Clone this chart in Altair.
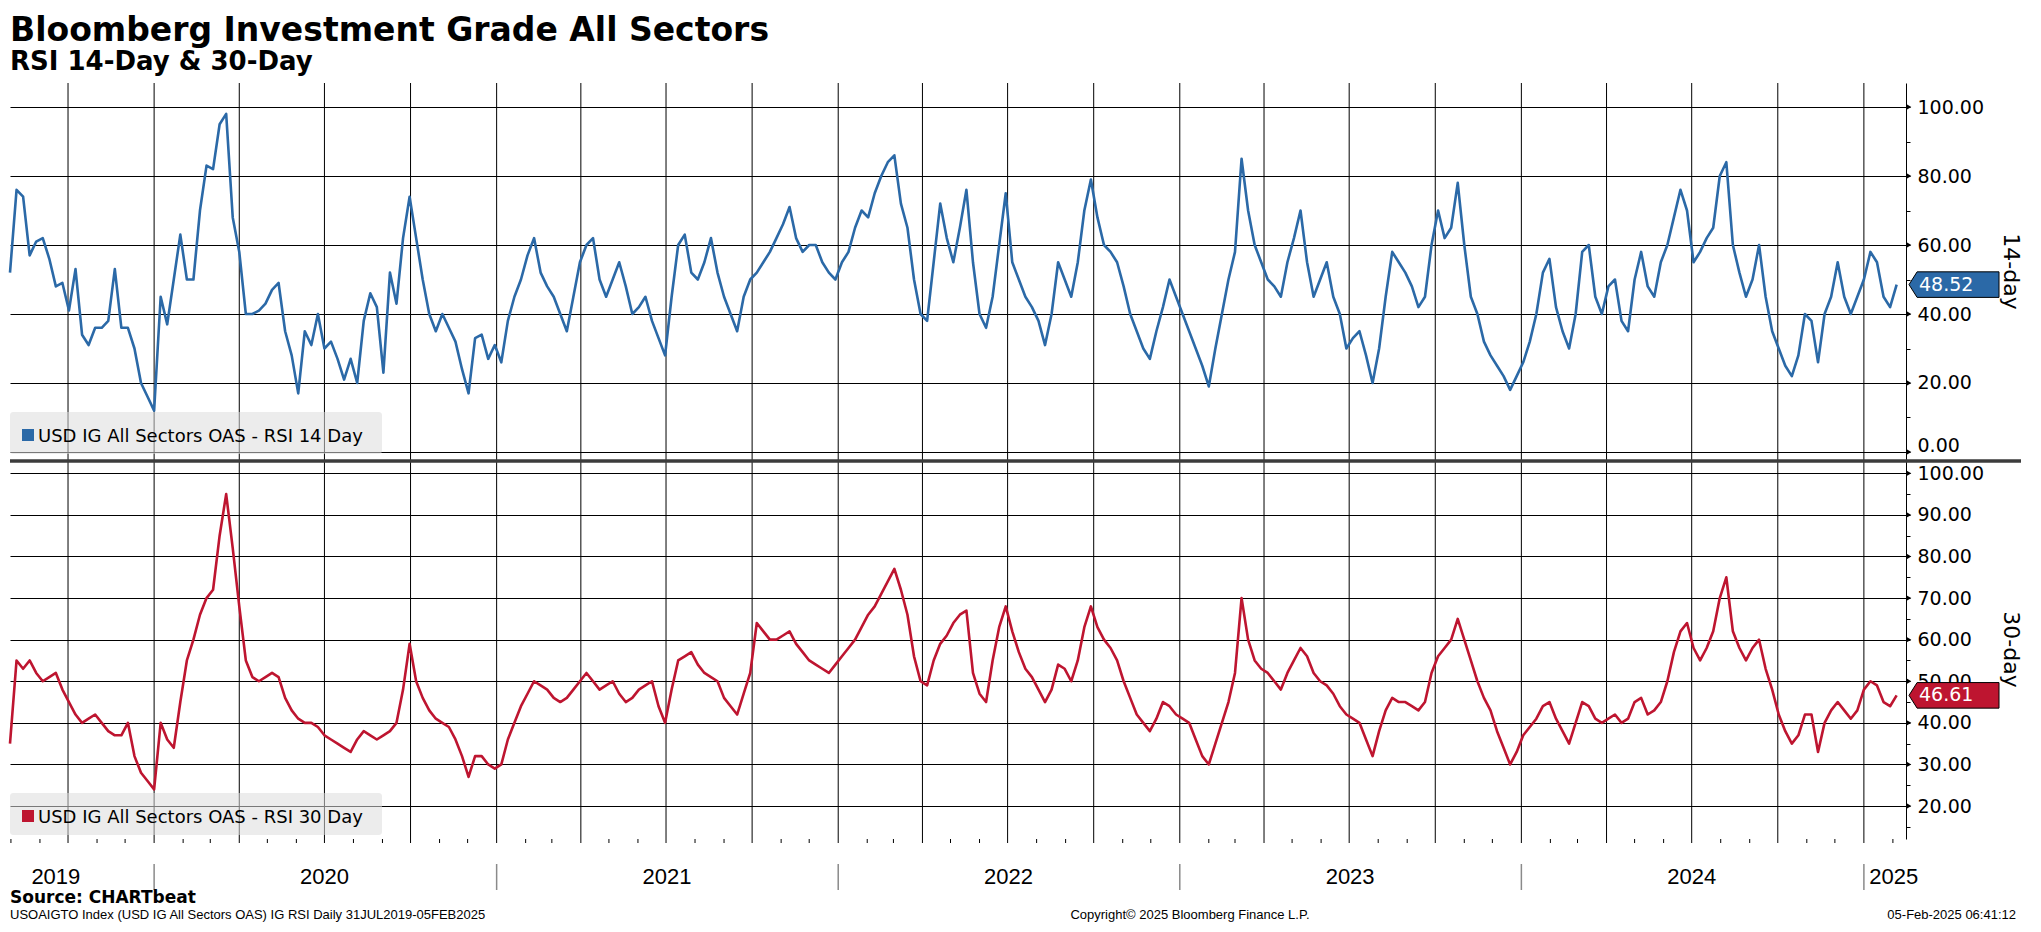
import altair as alt
import pandas as pd

TITLE = "Bloomberg Investment Grade All Sectors"
SUBTITLE = "RSI 14-Day & 30-Day"
NAME14 = "USD IG All Sectors OAS - RSI 14 Day"
NAME30 = "USD IG All Sectors OAS - RSI 30 Day"
SOURCE = "Source: CHARTbeat"
FOOT_LEFT = "USOAIGTO Index (USD IG All Sectors OAS) IG RSI  Daily 31JUL2019-05FEB2025"
FOOT_MID = "Copyright\u00a9 2025 Bloomberg Finance L.P."
FOOT_RIGHT = "05-Feb-2025 06:41:12"
START_DATE = "2019-07-31"   # weekly readings from here to 05-Feb-2025

rsi14 = [
    52, 76, 74, 57, 61, 62, 56, 48, 49, 41,
    53, 34, 31, 36, 36, 38, 53, 36, 36, 30,
    20, 16, 12, 45, 37, 50, 63, 50, 50, 70,
    83, 82, 95, 98, 68, 58, 40, 40, 41, 43,
    47, 49, 35, 28, 17, 35, 31, 40, 30, 32,
    27, 21, 27, 20, 38, 46, 42, 23, 52, 43,
    62, 74, 62, 50, 40, 35, 40, 36, 32, 24,
    17, 33, 34, 27, 31, 26, 38, 45, 50, 57,
    62, 52, 48, 45, 40, 35, 45, 55, 60, 62,
    50, 45, 50, 55, 48, 40, 42, 45, 38, 33,
    28, 45, 60, 63, 52, 50, 55, 62, 52, 45,
    40, 35, 45, 50, 52, 55, 58, 62, 66, 71,
    62, 58, 60, 60, 55, 52, 50, 55, 58, 65,
    70, 68, 75, 80, 84, 86, 72, 65, 50, 40,
    38, 55, 72, 62, 55, 65, 76, 55, 40, 36,
    45, 60, 75, 55, 50, 45, 42, 38, 31, 40,
    55, 50, 45, 55, 70, 79, 68, 60, 58, 55,
    48, 40, 35, 30, 27, 35, 42, 50, 45, 40,
    35, 30, 25, 19, 30, 40, 50, 58, 85, 70,
    60, 55, 50, 48, 45, 55, 62, 70, 55, 45,
    50, 55, 45, 40, 30, 33, 35, 28, 20, 30,
    45, 58, 55, 52, 48, 42, 45, 60, 70, 62,
    65, 78, 60, 45, 40, 32, 28, 25, 22, 18,
    22, 26, 32, 40, 52, 56, 42, 35, 30, 40,
    58, 60, 45, 40, 48, 50, 38, 35, 50, 58,
    48, 45, 55, 60, 68, 76, 70, 55, 58, 62,
    65, 80, 84, 60, 52, 45, 50, 60, 45, 35,
    30, 25, 22, 28, 40, 38, 26, 40, 45, 55,
    45, 40, 45, 50, 58, 55, 45, 42, 48.52,
]

rsi30 = [
    35, 55, 53, 55, 52, 50, 51, 52, 48, 45,
    42, 40, 41, 42, 40, 38, 37, 37, 40, 32,
    28, 26, 24, 40, 36, 34, 45, 55, 60, 66,
    70, 72, 85, 95, 82, 68, 55, 51, 50, 51,
    52, 51, 46, 43, 41, 40, 40, 39, 37, 36,
    35, 34, 33, 36, 38, 37, 36, 37, 38, 40,
    48, 59, 50, 46, 43, 41, 40, 39, 36, 32,
    27, 32, 32, 30, 29, 30, 36, 40, 44, 47,
    50, 49, 48, 46, 45, 46, 48, 50, 52, 50,
    48, 49, 50, 47, 45, 46, 48, 49, 50, 44,
    40, 48, 55, 56, 57, 54, 52, 51, 50, 46,
    44, 42, 47, 52, 64, 62, 60, 60, 61, 62,
    59, 57, 55, 54, 53, 52, 54, 56, 58, 60,
    63, 66, 68, 71, 74, 77, 72, 66, 56, 50,
    49, 55, 59, 61, 64, 66, 67, 52, 47, 45,
    55, 63, 68, 62, 57, 53, 51, 48, 45, 48,
    54, 53, 50, 55, 63, 68, 63, 60, 58, 55,
    50, 46, 42, 40, 38, 41, 45, 44, 42, 41,
    40, 36, 32, 30, 35, 40, 45, 52, 70, 60,
    55, 53, 52, 50, 48, 52, 55, 58, 56, 52,
    50, 49, 47, 44, 42, 41, 40, 36, 32, 38,
    43, 46, 45, 45, 44, 43, 45, 52, 56, 58,
    60, 65, 60, 55, 50, 46, 43, 38, 34, 30,
    33, 37, 39, 41, 44, 45, 41, 38, 35, 40,
    45, 44, 41, 40, 41, 42, 40, 41, 45, 46,
    42, 43, 45, 50, 57, 62, 64, 58, 55, 58,
    62, 70, 75, 62, 58, 55, 58, 60, 53, 48,
    42, 38, 35, 37, 42, 42, 33, 40, 43, 45,
    43, 41, 43, 48, 50, 49, 45, 44, 46.61,
]

LAST14 = 48.52
LAST30 = 46.61

ticks14 = [0, 10, 20, 30, 40, 50, 60, 70, 80, 90, 100]
major14 = [0, 20, 40, 60, 80, 100]
ticks30 = [15, 20, 25, 30, 35, 40, 45, 50, 55, 60, 65, 70, 75, 80, 85, 90, 95, 100]
major30 = [20, 30, 40, 50, 60, 70, 80, 90, 100]

year_labels = ["2019", "2020", "2021", "2022", "2023", "2024", "2025"]
year_centers = ["2019-09-18", "2020-07-01", "2021-07-02", "2022-07-02",
                "2023-07-02", "2024-07-01", "2025-02-02"]
year_bounds = ["2020-01-01", "2021-01-01", "2022-01-01", "2023-01-01",
               "2024-01-01", "2025-01-01"]

BLUE = "#2b69a7"
RED = "#be1530"
FONT = "DejaVu Sans"
FONT2 = "Liberation Sans"

W = 1896
H1 = 377
H2 = 379

df = pd.DataFrame({
    "date": pd.date_range(START_DATE, periods=len(rsi14), freq="7D"),
    "rsi14": rsi14,
    "rsi30": rsi30,
})
df_q = pd.DataFrame({"date": pd.date_range("2019-10-01", "2025-01-01", freq="QS")})
df_m = pd.DataFrame({"date": pd.date_range("2019-08-01", "2025-02-01", freq="MS")})
df_yb = pd.DataFrame({"date": pd.to_datetime(year_bounds)})
df_yl = pd.DataFrame({"date": pd.to_datetime(year_centers), "label": year_labels})

xscale = alt.Scale(domain=[alt.DateTime(year=2019, month=7, date=31),
                           alt.DateTime(year=2025, month=2, date=15)])
X = alt.X("date:T", scale=xscale, axis=None)


def make_axis(values, mod, low):
    test = f"datum.value % {mod} === 0"
    return alt.Axis(
        orient="right", values=values, title=None,
        labelExpr=f"{test} ? format(datum.value, '.2f') : ''",
        labelBaseline={"condition": {"test": f"datum.value === {low}", "value": "alphabetic"},
                       "value": "middle"},
        grid=True, gridColor="black", gridWidth=1,
        gridOpacity={"condition": {"test": test, "value": 1}, "value": 0},
        domain=True, domainColor="black", domainWidth=1,
        ticks=True, tickColor="black", tickSize=4, tickWidth=1,
        labelFont=FONT, labelFontSize=19, labelColor="black", labelPadding=7,
        labelOverlap=False,
    )


Y14 = alt.Y("rsi14:Q", scale=alt.Scale(domain=[-2.32, 106.96], nice=False, zero=False),
            axis=make_axis(ticks14, 20, 0))
Y30 = alt.Y("rsi30:Q", scale=alt.Scale(domain=[12.07, 103.2], nice=False, zero=False),
            axis=make_axis(ticks30, 10, -1))

TAG_PATH = "M -1 0 L -0.82 -0.284 L 1 -0.284 L 1 0.284 L -0.82 0.284 Z"


def panel(field, Y, color, H, name, last, major, side_title, leg_y0, leg_y1):
    one = pd.DataFrame({"label": [name]})
    qrules = alt.Chart(df_q).mark_rule(color="black", strokeWidth=1).encode(x=X)
    line = alt.Chart(df).mark_line(color=color, strokeWidth=2.6, strokeJoin="round").encode(
        x=X, y=Y)
    leg_box = alt.Chart(one).mark_rect(fill="#dcdcdc", opacity=0.55, cornerRadius=3).encode(
        x=alt.value(0), x2=alt.value(372), y=alt.value(leg_y0), y2=alt.value(leg_y1))
    mid = (leg_y0 + leg_y1) / 2
    leg_sq = alt.Chart(one).mark_rect(fill=color).encode(
        x=alt.value(12), x2=alt.value(24), y=alt.value(mid - 4), y2=alt.value(mid + 8))
    leg_txt = alt.Chart(one).mark_text(align="left", baseline="alphabetic", font=FONT,
                                       fontSize=18, color="black").encode(
        x=alt.value(28), y=alt.value(mid + 9), text="label:N")
    tri = alt.Chart(pd.DataFrame({field: major})).mark_point(
        shape="triangle-right", filled=True, color="black", size=28, opacity=1).encode(
        x=alt.value(W + 3), y=Y)
    df_last = pd.DataFrame({field: [last], "label": [f"{last:.2f}"]})
    tag = alt.Chart(df_last).mark_point(shape=TAG_PATH, filled=True, fill=color, stroke="black",
                                        strokeWidth=1, size=8100, opacity=1).encode(
        x=alt.value(W + 48), y=Y)
    tag_txt = alt.Chart(df_last).mark_text(align="left", baseline="middle", font=FONT,
                                           fontSize=19, color="white").encode(
        x=alt.value(W + 13), y=Y, text="label:N")
    side = alt.Chart(pd.DataFrame({"label": [side_title]})).mark_text(
        angle=90, align="center", baseline="middle", font=FONT, fontSize=22,
        color="black").encode(x=alt.value(W + 105), y=alt.value(H / 2), text="label:N")
    return [qrules, line, leg_box, leg_sq, leg_txt, tri, tag, tag_txt, side]


top_layers = panel("rsi14", Y14, BLUE, H1, NAME14, LAST14, major14, "14-day", 329, 371)
bot_layers = panel("rsi30", Y30, RED, H2, NAME30, LAST30, major30, "30-day", 333, 375)

top_bound = alt.Chart(pd.DataFrame({"label": [TITLE]})).mark_rule(
    color="white", strokeWidth=0.5).encode(x=alt.value(0), x2=alt.value(5), y=alt.value(-74))
title = alt.Chart(pd.DataFrame({"label": [TITLE]})).mark_text(
    align="left", baseline="alphabetic", font=FONT, fontSize=33, fontWeight="bold",
    color="black").encode(x=alt.value(0), y=alt.value(-42), text="label:N")
subtitle = alt.Chart(pd.DataFrame({"label": [SUBTITLE]})).mark_text(
    align="left", baseline="alphabetic", font=FONT, fontSize=26, fontWeight="bold",
    color="black").encode(x=alt.value(0), y=alt.value(-13), text="label:N")

top = alt.layer(top_bound, title, subtitle, *top_layers).properties(width=W, height=H1)

sep = alt.Chart(pd.DataFrame({"label": ["sep"]})).mark_rule(
    color="#3c3c3c", strokeWidth=3.4).encode(
    x=alt.value(0), x2=alt.value(W + 115), y=alt.value(1))
mticks = alt.Chart(df_m).mark_rule(color="black", strokeWidth=1).encode(
    x=X, y=alt.value(H2), y2=alt.value(H2 + 4))
ysep = alt.Chart(df_yb).mark_rule(color="#8a8a8a", strokeWidth=1.5).encode(
    x=X, y=alt.value(H2 + 25), y2=alt.value(H2 + 51))
ylab = alt.Chart(df_yl).mark_text(font=FONT2, fontSize=22, color="black",
                                  baseline="middle").encode(
    x=X, y=alt.value(H2 + 38), text="label:N")
src = alt.Chart(pd.DataFrame({"label": [SOURCE]})).mark_text(
    align="left", baseline="middle", font=FONT, fontSize=17, fontWeight="bold",
    color="black").encode(x=alt.value(0), y=alt.value(H2 + 59), text="label:N")
foot = pd.DataFrame({"label": [FOOT_LEFT, FOOT_MID, FOOT_RIGHT]})
fl = alt.Chart(foot.iloc[[0]]).mark_text(align="left", baseline="middle", font=FONT2,
                                         fontSize=13, color="black").encode(
    x=alt.value(0), y=alt.value(H2 + 76), text="label:N")
fm = alt.Chart(foot.iloc[[1]]).mark_text(align="center", baseline="middle", font=FONT2,
                                         fontSize=13, color="black").encode(
    x=alt.value(1180), y=alt.value(H2 + 76), text="label:N")
fr = alt.Chart(foot.iloc[[2]]).mark_text(align="right", baseline="middle", font=FONT2,
                                         fontSize=13, color="black").encode(
    x=alt.value(W + 110), y=alt.value(H2 + 76), text="label:N")

bottom = alt.layer(*bot_layers, sep, mticks, ysep, ylab, src, fl, fm, fr).properties(
    width=W, height=H2)

chart = alt.vconcat(top, bottom, spacing=0, bounds="flush").properties(
    padding=0, background="white").configure_view(stroke=None)

chart.save("out.html", embed_options={"renderer": "svg", "actions": False})
